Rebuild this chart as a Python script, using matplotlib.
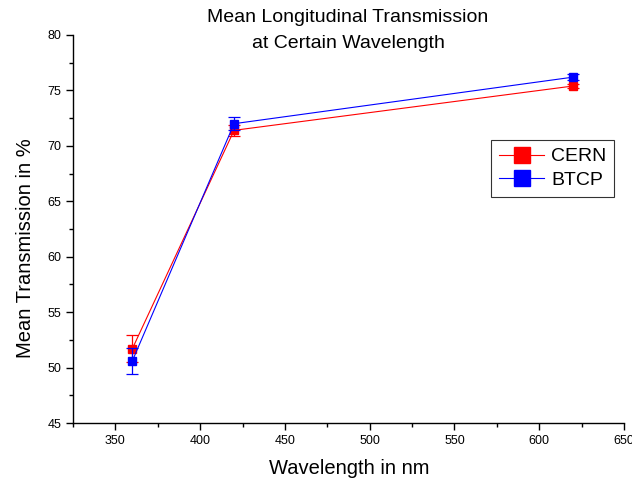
import matplotlib
matplotlib.use("Agg")
import matplotlib.pyplot as plt
from matplotlib.ticker import MultipleLocator
from matplotlib.lines import Line2D

plt.rcParams['font.family'] = ['Liberation Sans', 'DejaVu Sans']

wavelength = [360, 420, 620]
cern = [51.7, 71.4, 75.4]
cern_err = [1.2, 0.5, 0.2]
btcp = [50.6, 72.0, 76.2]
btcp_err = [1.15, 0.6, 0.3]

fig = plt.figure(figsize=(6.32, 4.82), dpi=100)
ax = fig.add_axes([73/632, 1-423/482, (624-73)/632, (423-35)/482])

red = '#ff0000'
blue = '#0000ff'
ax.errorbar(wavelength, cern, yerr=cern_err, color=red, marker='s', markersize=6,
            lw=0.8, elinewidth=0.9, capsize=4.5, capthick=0.9, zorder=3)
ax.errorbar(wavelength, btcp, yerr=btcp_err, color=blue, marker='s', markersize=6,
            lw=0.8, elinewidth=0.9, capsize=4.5, capthick=0.9, zorder=4)

ax.set_xlim(325, 650)
ax.set_ylim(45, 80)
ax.set_xticks([350, 400, 450, 500, 550, 600, 650])
ax.xaxis.set_minor_locator(MultipleLocator(25))
ax.yaxis.set_major_locator(MultipleLocator(5))
ax.yaxis.set_minor_locator(MultipleLocator(2.5))
ax.spines['top'].set_visible(False)
ax.spines['right'].set_visible(False)
for s in ['left', 'bottom']:
    ax.spines[s].set_linewidth(1.0)
ax.tick_params(which='major', direction='out', length=5, width=1.0, labelsize=9)
ax.tick_params(which='minor', direction='out', length=3, width=1.0)

fig.text(348/632, 1-18/482, 'Mean Longitudinal Transmission', ha='center', va='center', fontsize=14)
fig.text(348/632, 1-44/482, 'at Certain Wavelength', ha='center', va='center', fontsize=14)
fig.text(349/632, 1-468/482, 'Wavelength in nm', ha='center', va='center', fontsize=14.5)
fig.text(26/632, 1-248/482, 'Mean Transmission in %', ha='center', va='center', fontsize=14.5, rotation=90)

handles = [Line2D([], [], color=red, lw=0.8, marker='s', markersize=11),
           Line2D([], [], color=blue, lw=0.8, marker='s', markersize=11)]
leg = ax.legend(handles, ['CERN', 'BTCP'], loc='upper left',
                bbox_to_anchor=((491-73)/551, 1-(140-35)/388),
                fontsize=14, frameon=True, fancybox=False, borderaxespad=0,
                handlelength=2.35, handletextpad=0.35, borderpad=0.4, labelspacing=0.3)
leg.get_frame().set_edgecolor('black')
leg.get_frame().set_linewidth(0.8)

fig.savefig('out.png', dpi=100)
